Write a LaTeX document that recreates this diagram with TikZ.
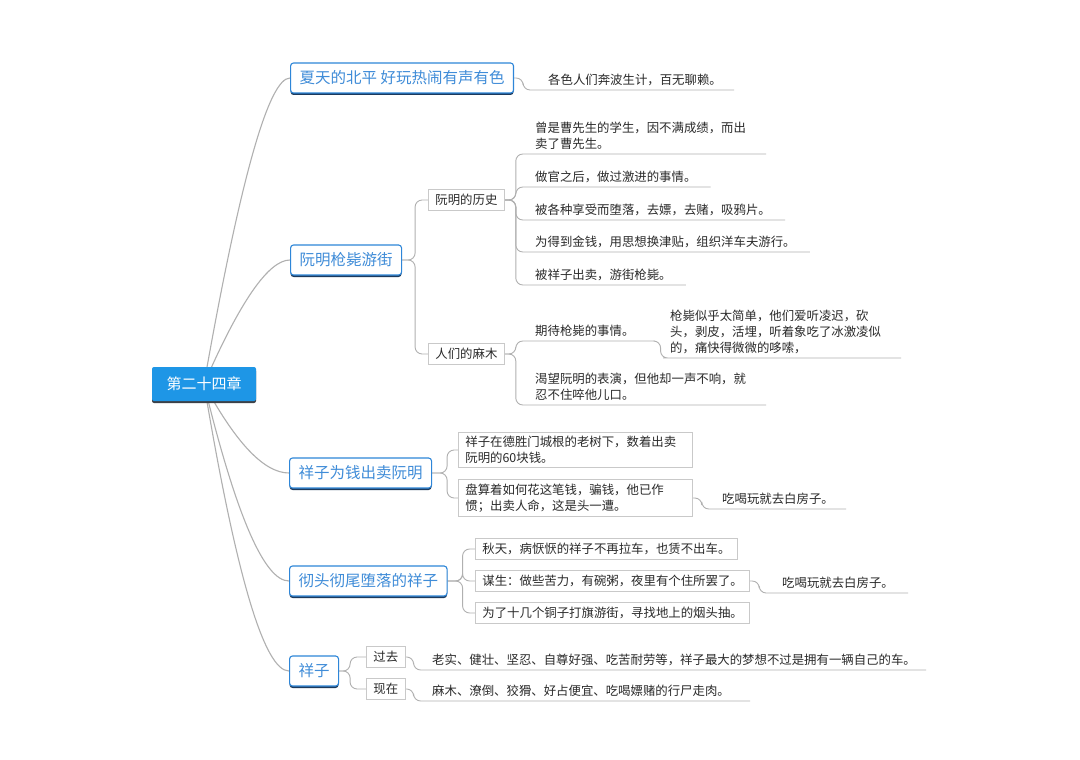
\documentclass[tikz,border=0pt]{standalone}
\usepackage{fontspec}
\setmainfont{Noto Sans CJK SC}
\usetikzlibrary{shadows,backgrounds,calc}
\definecolor{rootblue}{HTML}{1E96E6}
\definecolor{rootshadow}{HTML}{3C4148}
\definecolor{topicblue}{HTML}{2E86D8}
\definecolor{topictext}{HTML}{3F8CD8}
\definecolor{topicshadow}{HTML}{1D3A5C}
\definecolor{boxgrey}{HTML}{C9C9C9}
\definecolor{linegrey}{HTML}{B0B0B0}
\definecolor{txt}{HTML}{2A2A2A}
\begin{document}
\begin{tikzpicture}[x=1pt,y=-1pt,
  rootnode/.style={fill=rootblue,text=white,rounded corners=2pt,minimum width=104pt,minimum height=34pt,
    font=\fontsize{15}{18}\selectfont,
    drop shadow={shadow xshift=0pt,shadow yshift=-2pt,fill=rootshadow,opacity=1}},
  topic/.style={draw=topicblue,line width=1.1pt,fill=white,rounded corners=3pt,text=topictext,
    font=\fontsize{15.5}{18}\selectfont,minimum height=30pt,inner xsep=9pt,anchor=west,
    drop shadow={shadow xshift=0pt,shadow yshift=-2pt,fill=topicshadow,opacity=1}},
  subbox/.style={draw=boxgrey,line width=0.8pt,fill=white,text=txt,font=\fontsize{12.4}{16}\selectfont,
    inner xsep=7pt,inner ysep=4pt,minimum height=21pt,anchor=west,align=left},
  leaf/.style={text=txt,font=\fontsize{12.4}{16}\selectfont,inner xsep=0pt,inner ysep=4pt,
    anchor=south west,align=left},
  conn/.style={draw=linegrey,line width=0.9pt,rounded corners=7pt},
  rootconn/.style={draw=linegrey,line width=1.1pt}]
\useasboundingbox (0,0) rectangle (1080,760);
\begin{pgfonlayer}{background}
\fill[white] (0,0) rectangle (1080,760);
\end{pgfonlayer}

% root and main topics
\node[rootnode] (root) at (204,384) {第二十四章};
\node[topic] (t1) at (290,78) {夏天的北平 好玩热闹有声有色};
\node[topic] (t2) at (290,260) {阮明枪毙游街};
\node[topic] (t3) at (289,473) {祥子为钱出卖阮明};
\node[topic] (t4) at (289,581) {彻头彻尾堕落的祥子};
\node[topic] (t5) at (289,671) {祥子};

% topic 1
\node[leaf] (l1) at (548,90) {各色人们奔波生计，百无聊赖。};

% topic 2
\node[subbox] (s21) at (428,200) {阮明的历史};
\node[subbox] (s22) at (428,354) {人们的麻木};
\node[leaf] (h1) at (535,154) {曾是曹先生的学生，因不满成绩，而出\\卖了曹先生。};
\node[leaf] (h2) at (535,187) {做官之后，做过激进的事情。};
\node[leaf] (h3) at (535,220) {被各种享受而堕落，去嫖，去赌，吸鸦片。};
\node[leaf] (h4) at (535,252) {为得到金钱，用思想换津贴，组织洋车夫游行。};
\node[leaf] (h5) at (535,285) {被祥子出卖，游街枪毙。};
\node[leaf] (m1) at (535,341) {期待枪毙的事情。};
\node[leaf] (m11) at (670,358) {枪毙似乎太简单，他们爱听凌迟，砍\\头，剥皮，活埋，听着象吃了冰激凌似\\的，痛快得微微的哆嗦，};
\node[leaf] (m2) at (535,405) {渴望阮明的表演，但他却一声不响，就\\忍不住啐他儿口。};

% topic 3
\node[subbox,text width=220pt] (c31) at (458,450) {祥子在德胜门城根的老树下，数着出卖\\阮明的60块钱。};
\node[subbox,text width=220pt] (c32) at (458,498) {盘算着如何花这笔钱，骗钱，他已作\\惯；出卖人命，这是头一遭。};
\node[leaf] (c321) at (722,509) {吃喝玩就去白房子。};

% topic 4
\node[subbox] (c41) at (475,549) {秋天，病恹恹的祥子不再拉车，也赁不出车。};
\node[subbox] (c42) at (475,581) {谋生：做些苦力，有碗粥，夜里有个住所罢了。};
\node[subbox] (c43) at (475,613) {为了十几个铜子打旗游街，寻找地上的烟头抽。};
\node[leaf] (c421) at (782,593) {吃喝玩就去白房子。};

% topic 5
\node[subbox] (c51) at (366,657) {过去};
\node[subbox] (c52) at (366,689) {现在};
\node[leaf] (c511) at (432,670) {老实、健壮、坚忍、自尊好强、吃苦耐劳等，祥子最大的梦想不过是拥有一辆自己的车。};
\node[leaf] (c521) at (432,701) {麻木、潦倒、狡猾、好占便宜、吃喝嫖赌的行尸走肉。};

\coordinate (q1) at (258,78);
\coordinate (q2) at (258,260);
\coordinate (q3) at (252,473);
\coordinate (q4) at (252,581);
\coordinate (q5) at (252,671);

\begin{pgfonlayer}{background}
\foreach \t/\q in {t1/q1,t2/q2,t3/q3,t4/q4,t5/q5}
  \draw[rootconn] (root.center) .. controls ($(root.center)!0.667!(\q)$) and ($(\t.west)!0.667!(\q)$) .. (\t.west);

\draw[conn] (t1.east) -- ++(9,0) |- (l1.south west) -- ([xshift=12pt]l1.south east);

\draw[conn] (t2.east) -- ++(13,0) |- (s21.west);
\draw[conn] (t2.east) -- ++(13,0) |- (s22.west);
\draw[conn] (s21.east) -- ++(11,0) |- (h1.south west) -- ([xshift=20pt]h1.south east);
\foreach \h in {h2,h3,h4,h5}
  \draw[conn] (s21.east) -- ++(11,0) |- (\h.south west) -- ([xshift=14pt]\h.south east);
\draw[conn] (s22.east) -- ++(11,0) |- (m1.south west) -- ([xshift=20pt]m1.south east);
\draw[conn] ([xshift=20pt]m1.south east) -- ++(6,0) |- (m11.south west) -- ([xshift=20pt]m11.south east);
\draw[conn] (s22.east) -- ++(11,0) |- (m2.south west) -- ([xshift=20pt]m2.south east);

\draw[conn] (t3.east) -- ++(15,0) |- (c31.west);
\draw[conn] (t3.east) -- ++(15,0) |- (c32.west);
\draw[conn] (c32.east) -- ++(9,0) |- (c321.south west) -- ([xshift=12pt]c321.south east);

\foreach \c in {c41,c42,c43}
  \draw[conn] (t4.east) -- ++(15,0) |- (\c.west);
\draw[conn] (c42.east) -- ++(9,0) |- (c421.south west) -- ([xshift=14pt]c421.south east);

\draw[conn] (t5.east) -- ++(11,0) |- (c51.west);
\draw[conn] (t5.east) -- ++(11,0) |- (c52.west);
\draw[conn] (c51.east) -- ++(8,0) |- (c511.south west) -- ([xshift=10pt]c511.south east);
\draw[conn] (c52.east) -- ++(8,0) |- (c521.south west) -- ([xshift=20pt]c521.south east);
\end{pgfonlayer}
\end{tikzpicture}
\end{document}
